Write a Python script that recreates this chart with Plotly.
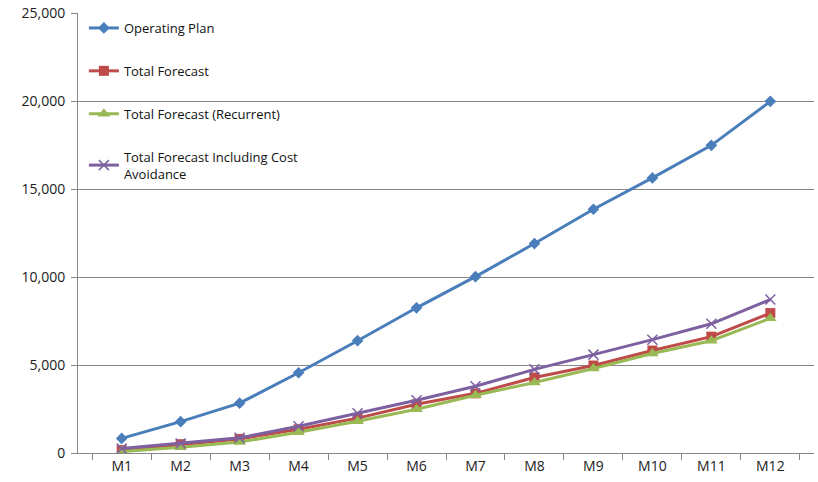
import plotly.graph_objects as go

months = ["M1", "M2", "M3", "M4", "M5", "M6", "M7", "M8", "M9", "M10", "M11", "M12"]
operating_plan = [830, 1780, 2830, 4560, 6380, 8250, 10020, 11900, 13850, 15630, 17480, 19980]
total_forecast = [160, 500, 800, 1350, 1980, 2770, 3390, 4290, 4970, 5820, 6610, 7950]
total_forecast_recurrent = [80, 320, 620, 1180, 1800, 2490, 3280, 4010, 4800, 5650, 6380, 7650]
total_forecast_cost_avoid = [250, 540, 860, 1520, 2260, 3000, 3790, 4750, 5590, 6440, 7340, 8720]

names = ["Operating Plan", "Total Forecast", "Total Forecast (Recurrent)",
         "Total Forecast Including Cost<br>Avoidance"]
colors = ["#4A7EBB", "#BE4B48", "#98B954", "#7D60A0"]
symbols = ["diamond", "square", "triangle-up", "x-thin"]
sizes = [9, 10, 11, 10]
series = [operating_plan, total_forecast, total_forecast_recurrent, total_forecast_cost_avoid]

fig = go.Figure()
for i, (nm, c, s, sz, ys) in enumerate(zip(names, colors, symbols, sizes, series)):
    marker = dict(symbol=s, size=sz, color=c)
    if s == "x-thin":
        marker["line"] = dict(color=c, width=1.5)
    fig.add_trace(go.Scatter(
        x=months, y=ys, name=nm, mode="lines+markers",
        line=dict(color=c, width=3), marker=marker,
        legendgroup=f"g{i}",
    ))

fig.update_layout(
    width=818, height=482,
    margin=dict(l=78, r=4, t=13, b=29),
    paper_bgcolor="white", plot_bgcolor="white",
    font=dict(family="Open Sans", size=14, color="#222222"),
    showlegend=True,
    legend=dict(x=0.008, y=1.0, xanchor="left", yanchor="top",
                bgcolor="rgba(0,0,0,0)", tracegroupgap=23,
                font=dict(size=13, color="#111111"), itemwidth=30),
    xaxis=dict(showgrid=False, showline=True, linecolor="#868686", linewidth=1,
               ticks="outside", ticklen=6, tickcolor="#868686", tickson="boundaries",
               tickfont=dict(size=14), fixedrange=True),
    yaxis=dict(range=[0, 25000], dtick=5000, tickformat=",", showgrid=True,
               gridcolor="#868686", gridwidth=1, showline=True, linecolor="#868686",
               linewidth=1, ticks="outside", ticklen=6, tickcolor="#868686",
               ticklabelstandoff=3,
               zeroline=False, tickfont=dict(size=14), fixedrange=True),
)

fig.write_html("out.html")
